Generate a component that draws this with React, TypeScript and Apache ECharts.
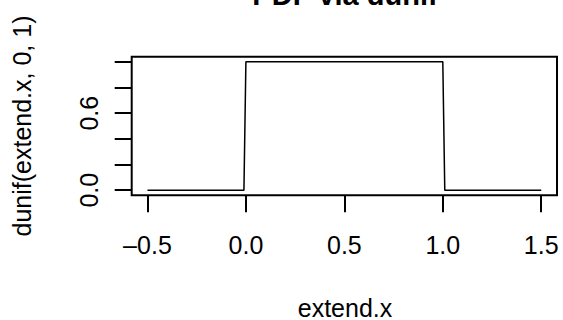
import React, { useEffect, useRef } from "react";
import * as echarts from "echarts";

const xPoints = [-0.5, -0.01, 0, 1, 1.01, 1.5];
const yPoints = [0, 0, 1, 1, 0, 0];
const xTicks = [-0.5, 0, 0.5, 1, 1.5];
const yTicks = [0, 0.2, 0.4, 0.6, 0.8, 1.0];
const yLabels = [0, 0.6];
const titleText = "PDF via dunif";
const xName = "extend.x";
const yName = "dunif(extend.x, 0, 1)";

const FONT = "'Liberation Sans', Arial, Helvetica, sans-serif";

export default function App() {
  const ref = useRef<HTMLDivElement>(null);
  useEffect(() => {
    if (!ref.current) return;
    const chart = echarts.init(ref.current, undefined, { renderer: "svg" });
    const data = xPoints.map((x, i) => [x, yPoints[i]]);
    chart.setOption({
      animation: false,
      backgroundColor: "#ffffff",
      grid: {
        left: 131.7,
        right: 6,
        top: 56.7,
        bottom: 124.7,
        show: true,
        borderColor: "#000",
        borderWidth: 2,
        backgroundColor: "transparent",
        containLabel: false,
      },
      xAxis: {
        type: "value",
        min: -0.58,
        max: 1.58,
        axisLine: { show: false, onZero: false },
        splitLine: { show: false },
        axisTick: {
          show: true,
          inside: false,
          customValues: xTicks,
          length: 17,
          lineStyle: { color: "#000", width: 2 },
        },
        axisLabel: {
          customValues: xTicks,
          formatter: (v: number) => (v < 0 ? "\u2013" + Math.abs(v).toFixed(1) : v.toFixed(1)),
          color: "#000",
          fontFamily: FONT,
          fontSize: 25,
          margin: 37,
        },
      },
      yAxis: {
        type: "value",
        min: -0.04,
        max: 1.04,
        axisLine: { show: false, onZero: false },
        splitLine: { show: false },
        axisTick: {
          show: true,
          inside: false,
          customValues: yTicks,
          length: 17,
          lineStyle: { color: "#000", width: 2 },
        },
        axisLabel: {
          customValues: yLabels,
          formatter: (v: number) => v.toFixed(1),
          rotate: 90,
          color: "#000",
          fontFamily: FONT,
          fontSize: 25,
          margin: 30,
        },
      },
      graphic: [
        {
          type: "text",
          x: 345,
          y: -5,
          style: {
            text: titleText,
            font: `bold 29px ${FONT}`,
            fill: "#000",
            textAlign: "center",
            textVerticalAlign: "middle",
          },
        },
        {
          type: "text",
          x: 345,
          y: 308,
          style: {
            text: xName,
            font: `25px ${FONT}`,
            fill: "#000",
            textAlign: "center",
            textVerticalAlign: "middle",
          },
        },
        {
          type: "text",
          x: 22,
          y: 126,
          rotation: Math.PI / 2,
          style: {
            text: yName,
            font: `25px ${FONT}`,
            fill: "#000",
            textAlign: "center",
            textVerticalAlign: "middle",
          },
        },
      ],
      series: [
        {
          type: "line",
          data,
          symbol: "none",
          lineStyle: { color: "#000", width: 1.5 },
          silent: true,
        },
      ],
    });
    return () => chart.dispose();
  }, []);
  return <div ref={ref} style={{ width: 563, height: 320, position: "absolute", left: 0, top: 0 }} />;
}
